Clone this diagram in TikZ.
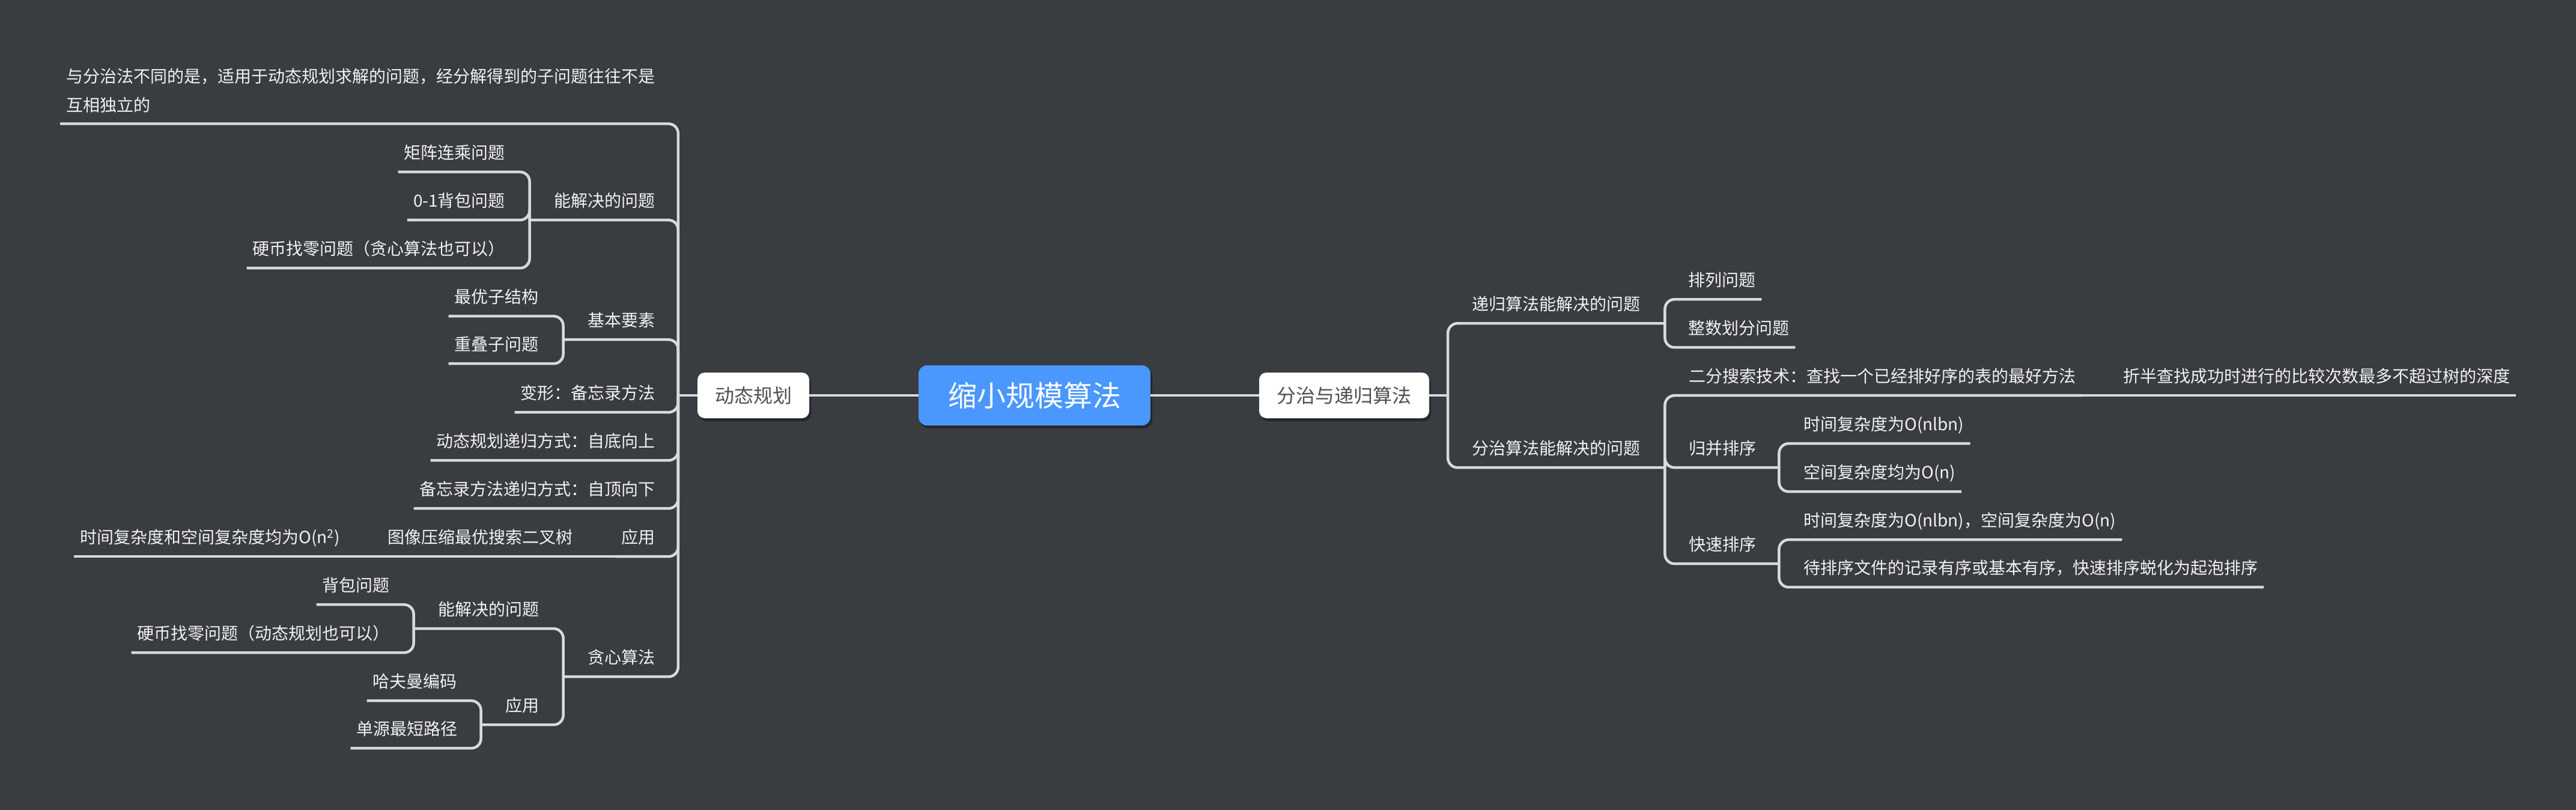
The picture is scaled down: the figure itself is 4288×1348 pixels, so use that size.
\documentclass[tikz,border=0pt]{standalone}
\usepackage{fontspec}
\setmainfont{Noto Sans CJK SC}
\usetikzlibrary{shadows}
\definecolor{bg}{HTML}{393C41}
\definecolor{ln}{HTML}{D9D9D9}
\definecolor{tx}{HTML}{F2F2F2}
\definecolor{blu}{HTML}{4A97FD}
\definecolor{boxtx}{HTML}{4F5152}
\begin{document}
\begin{tikzpicture}[x=1pt,y=-1pt,
  lbase/.style={text=tx, inner xsep=10pt},
  lbl/.style={lbase, font=\fontsize{28}{34}\selectfont, text height=24.6pt, text depth=3.4pt, inner ysep=18pt},
  conn/.style={draw=ln, line width=4.5pt, rounded corners=16pt},
  topicbox/.style={fill=white, rounded corners=12pt, text=boxtx, font=\fontsize{32}{38}\selectfont,
    text height=28.2pt, text depth=3.8pt, minimum height=76pt, inner xsep=0pt,
    drop shadow={shadow xshift=3pt, shadow yshift=-5pt, opacity=0.35, fill=black}},
  rootbox/.style={fill=blu, rounded corners=14pt, text=white, font=\fontsize{48}{56}\selectfont,
    text height=42.2pt, text depth=5.8pt, minimum height=100pt, minimum width=386pt, inner xsep=0pt,
    drop shadow={shadow xshift=3pt, shadow yshift=-5pt, opacity=0.35, fill=black}}
]
\useasboundingbox[fill=bg] (0,0) rectangle (4288,1348);

% central and main topics
\node[rootbox] (center) at (1722,658) {缩小规模算法};
\node[topicbox, minimum width=186pt] (dp) at (1254,658) {动态规划};
\node[topicbox, minimum width=283pt] (fz) at (2237.5,658) {分治与递归算法};

% ---------- left: dynamic programming ----------
\node[lbase, font=\fontsize{28}{48}\selectfont, align=left, text depth=3.4pt, inner ysep=17pt, anchor=south west] (d0) at (100,206)
  {与分治法不同的是，适用于动态规划求解的问题，经分解得到的子问题往往不是\\互相独立的};
\node[lbl, anchor=east] (d1) at (1101,334) {能解决的问题};
\node[lbl, anchor=east] (d11) at (851,254) {矩阵连乘问题};
\node[lbl, anchor=east] (d12) at (851,334) {0-1背包问题};
\node[lbl, anchor=east] (d13) at (851,414) {硬币找零问题（贪心算法也可以）};
\node[lbl, anchor=east] (d2) at (1101,533) {基本要素};
\node[lbl, anchor=east] (d21) at (907,494) {最优子结构};
\node[lbl, anchor=east] (d22) at (907,573) {重叠子问题};
\node[lbl, anchor=east] (d3) at (1101,654) {变形：备忘录方法};
\node[lbl, anchor=east] (d4) at (1101,734) {动态规划递归方式：自底向上};
\node[lbl, anchor=east] (d5) at (1101,814) {备忘录方法递归方式：自顶向下};
\node[lbl, anchor=east] (d6) at (1101,894) {应用};
\node[lbl, anchor=east] (d6a) at (964,894) {图像压缩最优搜索二叉树};
\node[lbl, anchor=east] (d6b) at (576,894) {时间复杂度和空间复杂度均为O(n\textsuperscript{2})};
\node[lbl, anchor=east] (d7) at (1101,1094) {贪心算法};
\node[lbl, anchor=east] (d71) at (908,1014) {能解决的问题};
\node[lbl, anchor=east] (d711) at (659,974) {背包问题};
\node[lbl, anchor=east] (d712) at (659,1054) {硬币找零问题（动态规划也可以）};
\node[lbl, anchor=east] (d72) at (908,1174) {应用};
\node[lbl, anchor=east] (d721) at (771,1134) {哈夫曼编码};
\node[lbl, anchor=east] (d722) at (772,1213) {单源最短路径};

% ---------- right: divide and conquer ----------
\node[lbl, anchor=west] (r1) at (2440,506) {递归算法能解决的问题};
\node[lbl, anchor=west] (r11) at (2800,466) {排列问题};
\node[lbl, anchor=west] (r12) at (2800,546) {整数划分问题};
\node[lbl, anchor=west] (r2) at (2440,746) {分治算法能解决的问题};
\node[lbl, anchor=west] (r21) at (2801,626) {二分搜索技术：查找一个已经排好序的表的最好方法};
\node[lbl, anchor=west] (r21b) at (3524,626) {折半查找成功时进行的比较次数最多不超过树的深度};
\node[lbl, anchor=west] (r22) at (2801,746) {归并排序};
\node[lbl, anchor=west] (r221) at (2992,706) {时间复杂度为O(nlbn)};
\node[lbl, anchor=west] (r222) at (2992,786) {空间复杂度均为O(n)};
\node[lbl, anchor=west] (r23) at (2801,906) {快速排序};
\node[lbl, anchor=west] (r231) at (2992,866) {时间复杂度为O(nlbn)，空间复杂度为O(n)};
\node[lbl, anchor=west] (r232) at (2992,945) {待排序文件的记录有序或基本有序，快速排序蜕化为起泡排序};

% junctions
\coordinate (dpJ) at ([xshift=-32pt]dp.west);
\coordinate (d1J) at ([xshift=-31pt]d1.south west);
\coordinate (d2J) at ([xshift=-31pt]d2.south west);
\coordinate (d7J) at ([xshift=-31pt]d7.south west);
\coordinate (d71J) at ([xshift=-31pt]d71.south west);
\coordinate (d72J) at ([xshift=-31pt]d72.south west);
\coordinate (fzJ) at ([xshift=31pt]fz.east);
\coordinate (r1J) at ([xshift=31pt]r1.south east);
\coordinate (r2J) at ([xshift=31pt]r2.south east);
\coordinate (r22J) at ([xshift=28pt]r22.south east);
\coordinate (r23J) at ([xshift=28pt]r23.south east);

% connectors
\draw[conn] (center.west) -- (dp.east);
\draw[conn] (center.east) -- (fz.west);
\draw[conn] (dp.west) -- (dpJ);
\draw[conn] (fz.east) -- (fzJ);

\draw[conn] (dpJ) |- (d0.south west);
\draw[conn] (dpJ) |- (d1J);
\draw[conn] (d1J) |- (d11.south west);
\draw[conn] (d1J) |- (d12.south west);
\draw[conn] (d1J) |- (d13.south west);
\draw[conn] (dpJ) |- (d2J);
\draw[conn] (d2J) |- (d21.south west);
\draw[conn] (d2J) |- (d22.south west);
\draw[conn] (dpJ) |- (d3.south west);
\draw[conn] (dpJ) |- (d4.south west);
\draw[conn] (dpJ) |- (d5.south west);
\draw[conn] (dpJ) |- (d6.south west);
\draw[conn] (d6.south west) -- (d6a.south west);
\draw[conn] (d6a.south west) -- (d6b.south west);
\draw[conn] (dpJ) |- (d7J);
\draw[conn] (d7J) |- (d71J);
\draw[conn] (d71J) |- (d711.south west);
\draw[conn] (d71J) |- (d712.south west);
\draw[conn] (d7J) |- (d72J);
\draw[conn] (d72J) |- (d721.south west);
\draw[conn] (d72J) |- (d722.south west);

\draw[conn] (fzJ) |- (r1J);
\draw[conn] (r1J) |- (r11.south east);
\draw[conn] (r1J) |- (r12.south east);
\draw[conn] (fzJ) |- (r2J);
\draw[conn] (r2J) |- (r21.south east);
\draw[conn] (r21.south east) -- (r21b.south east);
\draw[conn] (r2J) |- (r22J);
\draw[conn] (r22J) |- (r221.south east);
\draw[conn] (r22J) |- (r222.south east);
\draw[conn] (r2J) |- (r23J);
\draw[conn] (r23J) |- (r231.south east);
\draw[conn] (r23J) |- (r232.south east);
\end{tikzpicture}
\end{document}
